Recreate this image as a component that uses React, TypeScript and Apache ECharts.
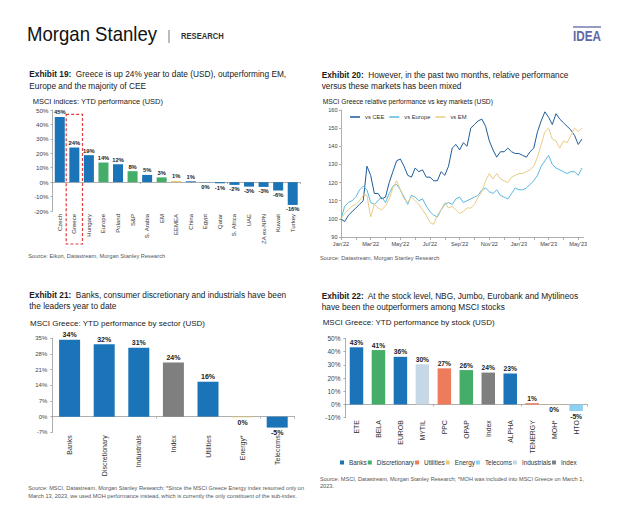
import React, { useEffect, useRef } from "react";
import * as echarts from "echarts";

const FONT = "'Liberation Sans', Arial, Helvetica, sans-serif";

// ---------- Exhibit 19 ----------
const ex19Categories = ["Czech", "Greece", "Hungary", "Europe", "Poland", "S&P", "S. Arabia", "EM", "EEMEA", "China", "Egypt", "Qatar", "S. Africa", "UAE", "ZA ex-NPN", "Kuwait", "Turkey"];
const ex19Values = [45.2, 24.0, 18.7, 13.6, 12.4, 7.6, 5.0, 3.3, 0.8, 0.6, -0.2, -0.8, -1.9, -3.1, -3.3, -5.8, -15.8];
const ex19Kinds = ["country", "country", "country", "region", "country", "region", "country", "region", "emea", "country", "country", "country", "country", "country", "country", "country", "country"];

// ---------- Exhibit 20 ----------
const ex20Months = [
  0, 0.25, 0.5, 0.75, 1, 1.25, 1.5, 1.75, 2, 2.25, 2.5, 2.75, 3, 3.25, 3.5, 3.75,
  4, 4.25, 4.5, 4.75, 5, 5.25, 5.5, 5.75, 6, 6.25, 6.5, 6.75, 7, 7.25, 7.5, 7.75,
  8, 8.25, 8.5, 8.75, 9, 9.25, 9.5, 9.75, 10, 10.25, 10.5, 10.75, 11, 11.25, 11.5, 11.75,
  12, 12.25, 12.5, 12.75, 13, 13.25, 13.5, 13.75, 14, 14.25, 14.5, 14.75, 15, 15.25, 15.5, 15.75,
  16, 16.25,
];
const ex20MonthLabels = ["Jan'22", "Mar'22", "May'22", "Jul'22", "Sep'22", "Nov'22", "Jan'23", "Mar'23", "May'23"];
const vsCEE = [
  100, 98.5, 102, 104, 106, 108, 110, 129, 124, 114, 114, 111, 112, 120, 126, 132,
  133, 129, 124, 123, 128, 126, 127, 123, 123, 121, 121, 126, 124, 129, 139, 141,
  138, 142, 140, 150, 152, 154, 155, 151, 143, 138, 134, 137, 137, 139, 137, 136,
  136, 135, 134, 137, 139, 148, 154, 159, 156, 152, 158, 155, 153, 151, 149, 146,
  141, 144,
];
const vsEurope = [
  100, 107, 109, 110, 112, 116, 118, 116, 109, 108, 110, 112, 109, 114, 118, 119,
  116, 112, 108, 113, 112, 110, 111, 107, 104, 102, 101, 105, 108, 109, 108, 111,
  112, 109, 110, 111, 112, 113, 116, 117, 115, 114, 116, 113, 112, 111, 114, 117,
  116, 116, 117, 119, 121, 124, 129, 132, 135, 130, 128, 127, 126, 125, 126, 126,
  124, 128,
];
const vsEM = [
  100, 103, 105, 107, 108, 110, 113, 113, 101, 108, 106, 105, 107, 111, 117, 121,
  116, 111, 109, 112, 110, 108, 105, 102, 98, 97, 102, 105, 109, 106, 107, 105,
  103, 104, 106, 106, 108, 112, 115, 121, 125, 122, 125, 122, 121, 120, 123, 124,
  125, 125, 126, 127, 129, 134, 141, 148, 150, 144, 143, 139, 143, 142, 146, 150,
  148, 150,
];

// ---------- Exhibit 21 ----------
const ex21Sectors = ["Banks", "Discretionary", "Industrials", "Index", "Utilities", "Energy*", "Telecoms"];
const ex21Values = [34.4, 32.3, 30.8, 24.2, 15.6, -0.3, -4.9];
const ex21Kinds = ["sector", "sector", "sector", "index", "sector", "energy", "sector"];

// ---------- Exhibit 22 ----------
const ex22Stocks = ["ETE", "BELA", "EUROB", "MYTIL", "PPC", "OPAP", "Index", "ALPHA", "TENERGY", "MOH*", "HTO"];
const ex22Values = [43.2, 41.1, 36.0, 30.4, 27.3, 26.0, 24.1, 23.4, 1.0, -0.2, -5.0];
const ex22StockSector = ["Banks", "Discretionary", "Banks", "Industrials", "Utilities", "Discretionary", "Index", "Banks", "Utilities", "Energy", "Telecoms"];
const ex22LegendOrder = ["Banks", "Discretionary", "Utilities", "Energy", "Telecoms", "Industrials", "Index"];

// ---------- styles ----------
const BLUE = "#1b74b7";
const GREEN = "#44ad68";
const GOLD = "#ecc96e";
const CORAL = "#ee7c5c";
const LIGHTBLUE = "#8dd0f0";
const PALE = "#c6d8e5";
const GREY = "#7f7f7f";

const ex19Colors: Record<string, string> = { country: BLUE, region: GREEN, emea: GOLD };
const ex21Colors: Record<string, string> = { sector: BLUE, index: GREY, energy: GOLD };
const ex22Colors: Record<string, string> = {
  Banks: BLUE, Discretionary: GREEN, Utilities: CORAL, Energy: GOLD, Telecoms: LIGHTBLUE, Industrials: PALE, Index: GREY,
};
const lineColors = { cee: "#1d5d9c", europe: "#58b8e0", em: "#e8cc86" };

const AX = { color: "#9a9a9a", width: 0.8 };
const pct = (p: any) => `${Math.round(p.value)}%`;

function txt(id: string, x: number, y: number, text: string, size: number, extra: any = {}) {
  return {
    id,
    type: "text",
    x,
    y,
    z: 20,
    ...(extra.scaleX ? { scaleX: extra.scaleX } : {}),
    style: {
      text,
      fontSize: size,
      fontFamily: FONT,
      fontWeight: extra.weight || "normal",
      fill: extra.fill || "#222",
      align: "left",
      verticalAlign: "middle",
    },
  };
}

function title(id: string, x: number, y: number, label: string, rest: string) {
  return {
    id,
    type: "text",
    x,
    y,
    z: 20,
    style: {
      text: `{b|${label}}{r|  ${rest}}`,
      fontSize: 8.3,
      fontFamily: FONT,
      fill: "#1a1a1a",
      align: "left",
      verticalAlign: "middle",
      rich: {
        b: { fontWeight: "bold", fontSize: 8.3, fontFamily: FONT, fill: "#1a1a1a" },
        r: { fontWeight: "normal", fontSize: 8.3, fontFamily: FONT, fill: "#1a1a1a" },
      },
    },
  };
}

function catLabelAxis(gridIndex: number, data: string[], size: number, margin: number) {
  return {
    type: "category",
    gridIndex,
    data,
    position: "bottom",
    axisLine: { show: false, onZero: false },
    axisTick: { show: false },
    splitLine: { show: false },
    axisLabel: { rotate: 90, fontSize: size, color: "#333", margin, interval: 0, fontFamily: FONT },
  };
}
function catLineAxis(gridIndex: number, data: string[]) {
  return {
    type: "category",
    gridIndex,
    data,
    position: "bottom",
    axisLine: { show: true, onZero: true, lineStyle: AX },
    axisTick: { show: true, length: 2, lineStyle: AX },
    axisLabel: { show: false },
    splitLine: { show: false },
  };
}
function valAxis(gridIndex: number, min: number, max: number, interval: number, size: number, margin: number, suffix: string) {
  return {
    type: "value",
    gridIndex,
    min,
    max,
    interval,
    axisLine: { show: true, lineStyle: AX },
    axisTick: { show: true, length: 2, lineStyle: AX },
    splitLine: { show: false },
    axisLabel: { formatter: `{value}${suffix}`, fontSize: size, color: "#444", margin, fontFamily: FONT },
  };
}

function buildOption() {
  const barLabel = (size: number) => ({
    show: true,
    fontSize: size,
    fontWeight: "bold",
    color: "#222",
    distance: 1.5,
    fontFamily: FONT,
    formatter: pct,
  });

  const ex22Series = ex22LegendOrder.map((sector) => ({
    type: "bar",
    name: sector,
    xAxisIndex: 5,
    yAxisIndex: 3,
    stack: "stocks",
    barWidth: 13.5,
    itemStyle: { color: ex22Colors[sector] },
    label: barLabel(6.7),
    data: ex22Values.map((v, i) =>
      ex22StockSector[i] === sector ? { value: v, label: { position: v < 0 ? "bottom" : "top" } } : null
    ),
  }));

  const graphic: any[] = [
    // header
    txt("ms", 27, 34, "Morgan Stanley", 21, { fill: "#111", scaleX: 0.885 }),
    { id: "sep", type: "line", z: 20, shape: { x1: 169, y1: 30, x2: 169, y2: 43 }, style: { stroke: "#555", lineWidth: 0.8 } },
    txt("research", 181, 36.5, "RESEARCH", 8.2, { weight: "bold", fill: "#333", scaleX: 0.93 }),
    { id: "ideaLine", type: "line", z: 20, shape: { x1: 573, y1: 27, x2: 601, y2: 27 }, style: { stroke: "#6a73a8", lineWidth: 1.4 } },
    txt("idea", 573, 36.3, "IDEA", 15, { weight: "bold", fill: "#5e6aa6", scaleX: 0.78 }),

    // Exhibit 19
    title("t19a", 29.3, 74.2, "Exhibit 19:", "Greece is up 24% year to date (USD), outperforming EM,"),
    txt("t19b", 29.3, 85.5, "Europe and the majority of CEE", 8.3, { fill: "#1a1a1a" }),
    txt("s19", 32.7, 101.7, "MSCI indices: YTD performance (USD)", 7.5),
    txt("src19", 28.3, 256, "Source: Eikon, Datastream, Morgan Stanley Research", 5.7, { fill: "#555" }),

    // Exhibit 20
    title("t20a", 321.7, 74.5, "Exhibit 20:", "However, in the past two months, relative performance"),
    txt("t20b", 321.7, 85.5, "versus these markets has been mixed", 8.3, { fill: "#1a1a1a" }),
    txt("s20", 322.7, 101.5, "MSCI Greece relative performance vs key markets (USD)", 6.7),
    txt("src20", 320, 258, "Source: Datastream, Morgan Stanley Research", 5.7, { fill: "#555" }),

    // Exhibit 21
    title("t21a", 29.3, 295, "Exhibit 21:", "Banks, consumer discretionary and industrials have been"),
    txt("t21b", 29.3, 306.3, "the leaders year to date", 8.3, { fill: "#1a1a1a" }),
    txt("s21", 30, 323, "MSCI Greece: YTD performance by sector (USD)", 8),
    txt("src21a", 28.3, 488.3, "Source: MSCI, Datastream, Morgan Stanley Research; *Since the MSCI Greece Energy index resumed only on", 5.6, { fill: "#555" }),
    txt("src21b", 28.3, 495.8, "March 13, 2023, we used MOH performance instead, which is currently the only constituent of the sub-index.", 5.6, { fill: "#555" }),

    // Exhibit 22
    title("t22a", 321.7, 296, "Exhibit 22:", "At the stock level, NBG, Jumbo, Eurobank and Mytilineos"),
    txt("t22b", 321.7, 307, "have been the outperformers among MSCI stocks", 8.3, { fill: "#1a1a1a" }),
    txt("s22", 322.7, 322.8, "MSCI Greece: YTD performance by stock (USD)", 8),
    txt("src22a", 320, 479, "Source: MSCI, Datastream, Morgan Stanley Research; *MOH was included into MSCI Greece on March 1,", 5.6, { fill: "#555" }),
    txt("src22b", 320, 486.3, "2023.", 5.6, { fill: "#555" }),
  ];

  return {
    animation: false,
    backgroundColor: "#ffffff",
    textStyle: { fontFamily: FONT },
    grid: [
      { left: 52.5, top: 110, width: 247.5, height: 101 },
      { left: 341, top: 110, width: 242.6, height: 127 },
      { left: 52.3, top: 338.3, width: 242.2, height: 94 },
      { left: 345.5, top: 338.3, width: 241.6, height: 79.4 },
    ],
    xAxis: [
      catLabelAxis(0, ex19Categories, 6, 3),
      catLineAxis(0, ex19Categories),
      {
        type: "value",
        gridIndex: 1,
        min: 0,
        max: 16.36,
        interval: 1,
        axisLine: { show: true, onZero: false, lineStyle: AX },
        axisTick: { show: true, length: 3, lineStyle: AX },
        splitLine: { show: false },
        axisLabel: {
          fontSize: 5.6,
          color: "#444",
          margin: 4,
          fontFamily: FONT,
          showMaxLabel: false,
          formatter: (v: number) => (Number.isInteger(v) && v % 2 === 0 ? ex20MonthLabels[v / 2] || "" : ""),
        },
      },
      catLabelAxis(2, ex21Sectors, 7, 3),
      catLineAxis(2, ex21Sectors),
      catLabelAxis(3, ex22Stocks, 6.9, 2.5),
      catLineAxis(3, ex22Stocks),
    ],
    yAxis: [
      valAxis(0, -20, 50, 10, 6.2, 4, "%"),
      valAxis(1, 90, 160, 10, 5.6, 3.5, ""),
      valAxis(2, -7, 35, 7, 6, 5, "%"),
      valAxis(3, -10, 50, 10, 6.5, 5, "%"),
    ],
    legend: [
      {
        data: ["vs CEE", "vs Europe", "vs EM"],
        left: 350,
        top: 114,
        padding: 0,
        icon: "rect",
        itemWidth: 10,
        itemHeight: 1.5,
        itemGap: 5,
        textStyle: { fontSize: 5.8, color: "#333", fontFamily: FONT },
      },
      {
        data: ex22LegendOrder,
        left: 340,
        top: 459.5,
        padding: 0,
        icon: "rect",
        itemWidth: 4,
        itemHeight: 4,
        itemGap: 1,
        textStyle: { fontSize: 6.4, color: "#333", fontFamily: FONT },
      },
    ],
    series: [
      {
        type: "bar",
        name: "MSCI indices",
        xAxisIndex: 0,
        yAxisIndex: 0,
        barWidth: 10,
        label: barLabel(5.8),
        data: ex19Values.map((v, i) => ({
          value: v,
          itemStyle: { color: ex19Colors[ex19Kinds[i]] },
          label: { position: v < 0 ? "bottom" : "top" },
        })),
      },
      {
        type: "line",
        name: "vs CEE",
        xAxisIndex: 2,
        yAxisIndex: 1,
        symbol: "none",
        color: lineColors.cee,
        lineStyle: { width: 1, color: lineColors.cee },
        data: ex20Months.map((m, i) => [m, vsCEE[i]]),
      },
      {
        type: "line",
        name: "vs Europe",
        xAxisIndex: 2,
        yAxisIndex: 1,
        symbol: "none",
        color: lineColors.europe,
        lineStyle: { width: 1, color: lineColors.europe },
        data: ex20Months.map((m, i) => [m, vsEurope[i]]),
      },
      {
        type: "line",
        name: "vs EM",
        xAxisIndex: 2,
        yAxisIndex: 1,
        symbol: "none",
        color: lineColors.em,
        lineStyle: { width: 1, color: lineColors.em },
        data: ex20Months.map((m, i) => [m, vsEM[i]]),
      },
      {
        type: "bar",
        name: "Sector performance",
        xAxisIndex: 3,
        yAxisIndex: 2,
        barWidth: 21,
        label: barLabel(7),
        data: ex21Values.map((v, i) => ({
          value: v,
          itemStyle: { color: ex21Colors[ex21Kinds[i]] },
          label: { position: v < 0 ? "bottom" : "top" },
        })),
      },
      ...ex22Series,
    ],
    graphic,
  };
}

export default function App() {
  const ref = useRef<HTMLDivElement>(null);
  useEffect(() => {
    const el = ref.current;
    if (!el) return;
    const chart = echarts.init(el, null, { renderer: "svg" });
    chart.setOption(buildOption() as any);
    // dashed box around Greece, placed through the axis scales
    const finder = { xAxisIndex: 0, yAxisIndex: 0 };
    const gi = ex19Categories.indexOf("Greece");
    const pTop = chart.convertToPixel(finder, [gi, 47]) as number[];
    const pNext = chart.convertToPixel(finder, [gi + 1, 47]) as number[];
    const pBottom = chart.convertToPixel(finder, [gi, -20]) as number[];
    if (pTop && pNext && pBottom) {
      const band = pNext[0] - pTop[0];
      const w = band * 1.12;
      chart.setOption({
        graphic: [
          {
            id: "greeceBox",
            type: "rect",
            z: 30,
            shape: { x: pTop[0] - w / 2, y: pTop[1], width: w, height: pBottom[1] + 33 - pTop[1] },
            style: { fill: "none", stroke: "#e23b3b", lineWidth: 1.2, lineDash: [3, 2] },
          },
        ],
      } as any);
    }
    return () => chart.dispose();
  }, []);
  return (
    <div
      ref={ref}
      style={{ position: "fixed", left: 0, top: 0, width: 624, height: 512, background: "#ffffff" }}
    />
  );
}
